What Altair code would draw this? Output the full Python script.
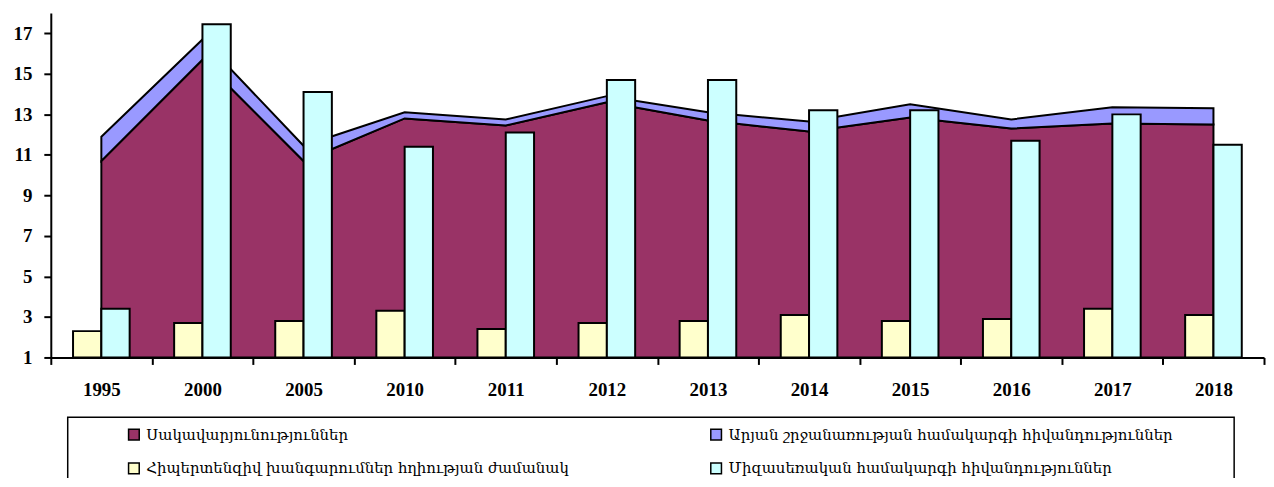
import altair as alt
import pandas as pd

years = ["1995", "2000", "2005", "2010", "2011", "2012", "2013", "2014", "2015", "2016", "2017", "2018"]
anemia = [10.7, 15.7, 10.7, 12.8, 12.45, 13.6, 12.7, 12.15, 12.85, 12.3, 12.55, 12.5]
circulatory = [1.2, 1.0, 0.75, 0.3, 0.3, 0.3, 0.4, 0.5, 0.65, 0.45, 0.8, 0.8]
hypertensive = [2.3, 2.7, 2.8, 3.3, 2.4, 2.7, 2.8, 3.1, 2.8, 2.9, 3.4, 3.1]
genitourinary = [3.4, 17.45, 14.1, 11.4, 12.1, 14.7, 14.7, 13.2, 13.2, 11.7, 13.0, 11.5]

series_names = [
    "Սակավարյունություններ",
    "Արյան շրջանառության համակարգի հիվանդություններ",
    "Հիպերտենզիվ խանգարումներ հղիության ժամանակ",
    "Միզասեռական համակարգի հիվանդություններ",
]
series_colors = ["#993366", "#9999FF", "#FFFFCC", "#CCFFFF"]
# legend columns are filled column by column
legend_order = [series_names[0], series_names[2], series_names[1], series_names[3]]
legend_colors = [series_colors[0], series_colors[2], series_colors[1], series_colors[3]]

BASE = 1
area_rows = []
bar_rows = []
for i, yr in enumerate(years):
    area_rows.append({"idx": i, "series": series_names[0], "top": anemia[i], "bottom": BASE})
    area_rows.append({"idx": i, "series": series_names[1], "top": anemia[i] + circulatory[i], "bottom": anemia[i]})
    bar_rows.append({"idx": i, "series": series_names[2], "value": hypertensive[i], "side": -1})
    bar_rows.append({"idx": i, "series": series_names[3], "value": genitourinary[i], "side": 1})
area_df = pd.DataFrame(area_rows)
bar_df = pd.DataFrame(bar_rows)

BW = 0.28
n = len(years)
tick_vals = [k / 2 - 0.5 for k in range(2 * n + 1)]
label_expr = "datum.value % 1 === 0 ? [" + ",".join("'" + y + "'" for y in years) + "][datum.value] : ''"

x_scale = alt.Scale(domain=[-0.5, n - 0.5], nice=False, zero=False)
y_scale = alt.Scale(domain=[1, 18], nice=False, zero=False)
color_scale = alt.Scale(domain=legend_order, range=legend_colors)

x_axis = alt.Axis(
    values=tick_vals, labelExpr=label_expr, title=None, grid=False,
    tickSize=7, tickWidth=2, tickColor="black",
    tickOpacity={"expr": "datum.value % 1 === 0 ? 0 : 1"},
    domainColor="black", domainWidth=2,
    labelFont="Liberation Serif", labelFontWeight="bold", labelFontSize=19,
    labelColor="black", labelPadding=16, labelOverlap=False, labelBound=False,
)
y_axis = alt.Axis(
    values=list(range(1, 18, 2)), title=None, grid=False,
    tickSize=7, tickWidth=2, tickColor="black",
    domainColor="black", domainWidth=2,
    labelFont="Liberation Serif", labelFontWeight="bold", labelFontSize=19,
    labelColor="black", labelPadding=12,
)

legend = alt.Legend(
    title=None, orient="none", legendX=76, legendY=416, columns=2,
    columnPadding=138, rowPadding=17, symbolType="square", symbolSize=115,
    symbolStrokeColor="black", symbolStrokeWidth=1.5, labelFont="DejaVu Serif",
    labelFontSize=15, labelColor="black", labelOffset=5, labelLimit=700, padding=0,
)

areas = alt.Chart(area_df).mark_area(stroke="black", strokeWidth=2, opacity=1).encode(
    x=alt.X("idx:Q", scale=x_scale, axis=x_axis),
    y=alt.Y("top:Q", scale=y_scale, axis=y_axis, stack=None),
    y2="bottom:Q",
    color=alt.Color("series:N", scale=color_scale, legend=legend, sort=legend_order),
    detail="series:N",
)

bars = alt.Chart(bar_df).transform_calculate(
    x0=f"datum.side < 0 ? datum.idx - {BW} : datum.idx",
    x1=f"datum.side < 0 ? datum.idx : datum.idx + {BW}",
).mark_bar(stroke="black", strokeWidth=2, opacity=1).encode(
    x=alt.X("x0:Q", scale=x_scale),
    x2="x1:Q",
    y=alt.Y("value:Q", scale=y_scale),
    y2=alt.datum(BASE),
    color=alt.Color("series:N", scale=color_scale, legend=legend, sort=legend_order),
)

frame = alt.Chart(pd.DataFrame({"k": [0]})).mark_rect(
    fill=None, stroke="black", strokeWidth=1.5
).encode(
    x=alt.value(17), x2=alt.value(1189), y=alt.value(406), y2=alt.value(520)
)

chart = alt.layer(areas, bars, frame).properties(
    width=1219, height=346,
    autosize=alt.AutoSizeParams(type="none"),
    padding={"left": 43, "top": 4, "right": 2, "bottom": 120},
    background="white",
).configure_view(stroke=None)

chart.save("out.html", embed_options={"renderer": "svg", "actions": False})
